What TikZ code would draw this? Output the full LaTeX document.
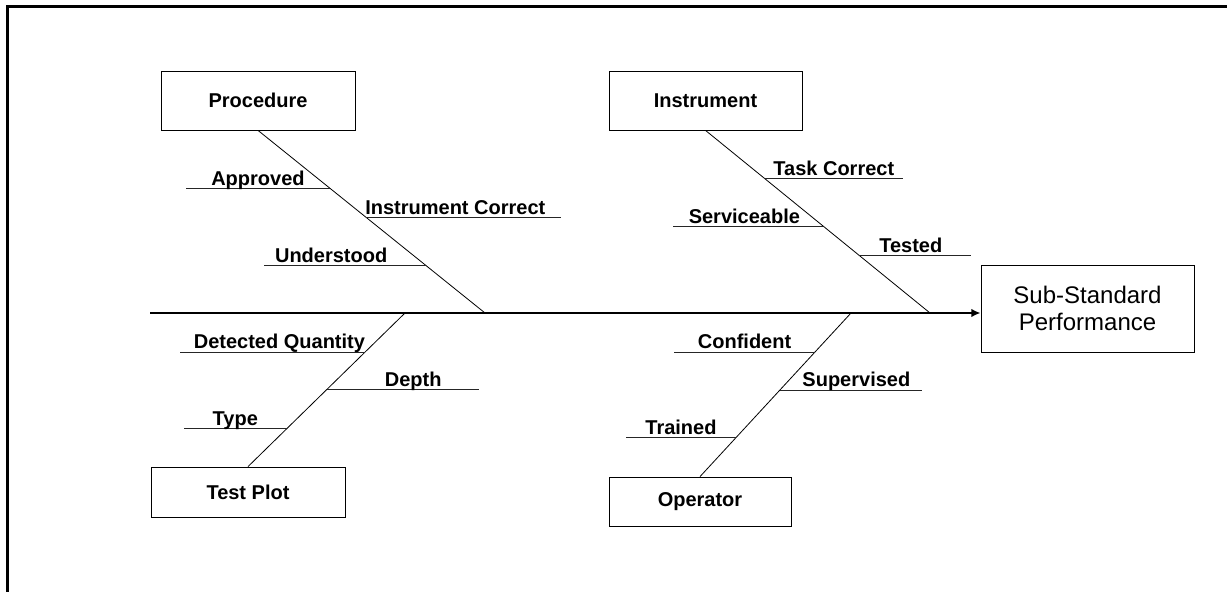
\documentclass[tikz,border=0pt]{standalone}
\usepackage{fontspec}
\setmainfont{Liberation Sans}
\usetikzlibrary{arrows.meta}

\tikzset{
  cause/.style={draw, line width=0.6pt, inner sep=0pt, minimum width=145.5pt,
    minimum height=44.25pt, font=\fontsize{15}{18}\selectfont\bfseries},
  effect/.style={draw, line width=0.6pt, inner sep=0pt, minimum width=159.75pt,
    minimum height=65.25pt, align=center, font=\fontsize{18}{20.5}\selectfont},
  spine/.style={line width=1.6pt, -{Latex[length=7pt,width=6.5pt]}},
  bone/.style={line width=0.6pt},
  twig/.style={line width=0.5pt, black!85},
  twiglabel/.style={midway, anchor=base, yshift=2.3pt, text=black,
    font=\fontsize{15}{18}\selectfont\bfseries},
}

\begin{document}
\begin{tikzpicture}[x=0.75pt, y=-0.75pt]
  \useasboundingbox (0,0) rectangle (1227,592);
  \draw[line width=2.25pt] (7,592) -- (7,7) -- (1227,7);

  % boxes
  \node[cause] (proc) at (258,100.5) {Procedure};
  \node[cause, minimum width=144.75pt] (inst) at (705.5,100.5) {Instrument};
  \node[cause, minimum height=37.5pt] (plot) at (248,492) {Test Plot};
  \node[cause, minimum width=136.5pt, minimum height=36.75pt] (oper) at (700,501.5) {Operator};
  \node[effect] (perf) at (1087.5,308.5) {Sub-Standard\\Performance};

  % spine
  \coordinate (tail) at (150,313);
  \draw[spine] (tail) -- (tail -| perf.west);

  % bones
  \coordinate (p0) at (485,313);
  \coordinate (i0) at (930,313);
  \coordinate (t0) at (405,313);
  \coordinate (o0) at (851,313);
  \draw[bone] (proc.south) -- (p0)
    coordinate[pos=0.317] (p1) coordinate[pos=0.475] (p2) coordinate[pos=0.738] (p3);
  \draw[bone] (inst.south) -- (i0)
    coordinate[pos=0.262] (i1) coordinate[pos=0.525] (i2) coordinate[pos=0.683] (i3);
  \draw[bone] (t0) -- (plot.north)
    coordinate[pos=0.253] (t1) coordinate[pos=0.5] (t2) coordinate[pos=0.753] (t3);
  \draw[bone] (o0) -- (oper.north)
    coordinate[pos=0.238] (o1) coordinate[pos=0.47] (o2) coordinate[pos=0.762] (o3);

  % procedure
  \draw[twig] (p1) -- ++(-144,0) node[twiglabel] {Approved};
  \draw[twig] (p2) -- ++(195,0) node[twiglabel, xshift=-6pt] {Instrument Correct};
  \draw[twig] (p3) -- ++(-162,0) node[twiglabel, xshift=-10pt] {Understood};

  % instrument
  \draw[twig] (i1) -- ++(139,0) node[twiglabel] {Task Correct};
  \draw[twig] (i2) -- ++(-150,0) node[twiglabel, xshift=-3pt] {Serviceable};
  \draw[twig] (i3) -- ++(112,0) node[twiglabel, xshift=-3pt] {Tested};

  % test plot
  \draw[twig] (t1) -- ++(-185,0) node[twiglabel, xshift=5pt] {Detected Quantity};
  \draw[twig] (t2) -- ++(152,0) node[twiglabel, xshift=8pt] {Depth};
  \draw[twig] (t3) -- ++(-103,0) node[twiglabel] {Type};

  % operator
  \draw[twig] (o1) -- ++(-141,0) node[twiglabel] {Confident};
  \draw[twig] (o2) -- ++(142,0) node[twiglabel, xshift=4pt] {Supervised};
  \draw[twig] (o3) -- ++(-110,0) node[twiglabel] {Trained};
\end{tikzpicture}
\end{document}
